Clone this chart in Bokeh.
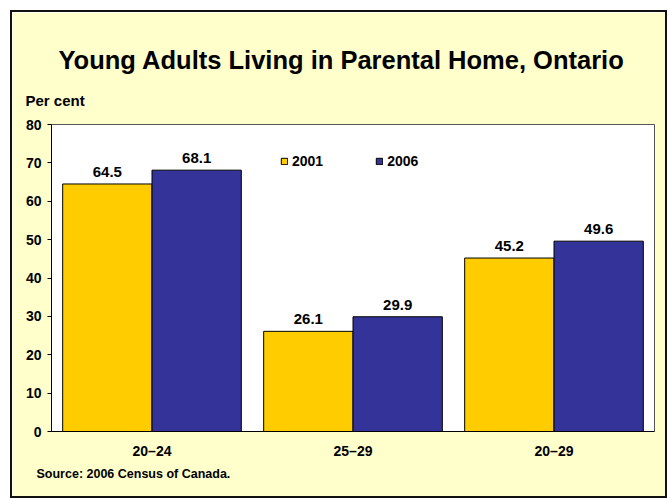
from bokeh.plotting import figure
from bokeh.models import (ColumnDataSource, FactorRange, LabelSet, Legend,
                          LegendItem, Title, FixedTicker)
from bokeh.core.properties import value
from bokeh.transform import dodge
from bokeh.embed import file_html
from bokeh.resources import INLINE

categories = ["20–24", "25–29", "20–29"]
values_2001 = [64.5, 26.1, 45.2]
values_2006 = [68.1, 29.9, 49.6]
series = ["2001", "2006"]
y_ticks = [0, 10, 20, 30, 40, 50, 60, 70, 80]

FONT = "Liberation Sans"
YELLOW = "#FFCC00"
BLUE = "#333399"
BG = "#FFFFCC"

src = ColumnDataSource(dict(
    cat=categories,
    v2001=values_2001,
    v2006=values_2006,
    l2001=[f"{v:.1f}" for v in values_2001],
    l2006=[f"{v:.1f}" for v in values_2006],
))

p = figure(x_range=FactorRange(*categories, range_padding=0), y_range=(0, 80),
           width=653, height=484, output_backend="svg", toolbar_location=None,
           title=None,
           min_border_left=39, min_border_right=15, min_border_top=112,
           min_border_bottom=69)
p.margin = (10, 0, 0, 10)
p.styles = {"border": "2px solid #111111", "box-sizing": "content-box"}

p.background_fill_color = "white"
p.border_fill_color = BG
p.outline_line_color = "#555555"
p.outline_line_width = 1
p.xgrid.grid_line_color = None
p.ygrid.grid_line_color = None

bw = 0.4444
r1 = p.vbar(x=dodge("cat", -bw / 2, range=p.x_range), top="v2001", width=bw,
            source=src, fill_color=YELLOW, line_color="#000000", line_width=1)
r2 = p.vbar(x=dodge("cat", bw / 2, range=p.x_range), top="v2006", width=bw,
            source=src, fill_color=BLUE, line_color="#000000", line_width=1)

for col, off in (("l2001", -bw / 2), ("l2006", bw / 2)):
    lab = LabelSet(x=dodge("cat", off, range=p.x_range), y=col.replace("l", "v"),
                   text=col, source=src, y_offset=7, text_align="center",
                   text_baseline="bottom", text_font=value(FONT),
                   text_font_size="15px", text_font_style="bold",
                   text_color="#000000")
    p.add_layout(lab)

# axes
p.yaxis.ticker = FixedTicker(ticks=y_ticks)
p.yaxis.minor_tick_line_color = None
p.yaxis.major_tick_in = 0
p.yaxis.major_tick_out = 4
p.yaxis.major_label_standoff = 6
for ax in (p.xaxis[0], p.yaxis[0]):
    ax.major_label_text_font = FONT
    ax.major_label_text_font_size = "14px"
    ax.major_label_text_font_style = "bold"
    ax.major_label_text_color = "#000000"
    ax.axis_line_color = "#000000"
    ax.major_tick_line_color = "#000000"
p.xaxis.major_tick_line_color = None
p.xaxis.minor_tick_line_color = None
p.xaxis.major_label_standoff = 5

legend = Legend(items=[LegendItem(label=series[0], renderers=[r1]),
                       LegendItem(label=series[1], renderers=[r2])],
                orientation="horizontal", location=(229, 262),
                padding=0, margin=0, spacing=52, label_standoff=4,
                glyph_width=8, glyph_height=8,
                label_text_font=FONT, label_text_font_size="14px",
                label_text_font_style="bold", label_text_color="#000000",
                background_fill_alpha=0, border_line_color=None)
p.add_layout(legend)

per_cent = Title(text="Per cent", align="left", offset=-26, text_font=FONT,
                 text_font_size="15px", text_font_style="bold", standoff=32,
                 text_color="#000000")
main = Title(text="Young Adults Living in Parental Home, Ontario", align="left",
             offset=7, text_font=FONT, text_font_size="25.5px",
             text_font_style="bold", standoff=0, text_color="#000000")
p.add_layout(per_cent, "above")
p.add_layout(main, "above")

source_t = Title(text="Source: 2006 Census of Canada.", align="left", offset=-15,
                 text_font=FONT, text_font_size="12.5px", text_font_style="bold",
                 standoff=6, text_color="#000000")
p.add_layout(source_t, "below")

open("out.html", "w").write(file_html(p, INLINE))
